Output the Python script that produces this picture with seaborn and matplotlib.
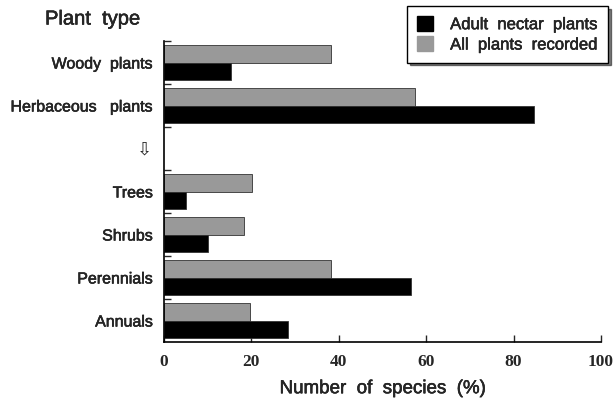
import numpy as np
import seaborn as sns
import matplotlib.pyplot as plt
import pandas as pd
from matplotlib.patches import Patch
import matplotlib.patheffects as pe

# Plant type categories (the third row is an empty separator with an arrow)
plant_types = ["Woody  plants", "Herbaceous   plants", "",
               "Trees", "Shrubs", "Perennials", "Annuals"]
all_plants = [38.2, 57.4, np.nan, 20.1, 18.3, 38.2, 19.7]
nectar_plants = [15.3, 84.7, np.nan, 5.0, 10.1, 56.5, 28.4]
x_ticks = [0, 20, 40, 60, 80, 100]

sns.set_style("ticks")
plt.rcParams['font.family'] = ['Liberation Sans', 'DejaVu Sans']

# slightly heavier strokes to imitate the scanned print
heavy = [pe.withStroke(linewidth=0.35, foreground='black')]

df = pd.DataFrame({
    'type': plant_types * 2,
    'pct': all_plants + nectar_plants,
    'group': ['All plants recorded'] * len(plant_types) + ['Adult nectar plants'] * len(plant_types),
})
df = df.dropna()

fig = plt.figure(figsize=(6.15, 4.02), dpi=100)
ax = fig.add_axes([164 / 615, 1 - 343 / 402, 437 / 615, 301 / 402])

sns.barplot(data=df, y='type', x='pct', hue='group', order=plant_types,
            hue_order=['All plants recorded', 'Adult nectar plants'],
            palette=['#999999', 'black'], orient='h', width=0.8, gap=0,
            edgecolor='#333333', linewidth=0.6, legend=False, ax=ax)

ax.set_xlim(0, 100)
ax.set_ylim(6.5, -0.5)
ax.set_xticks(x_ticks)
ax.set_xticklabels([str(t) for t in x_ticks], family='Liberation Serif',
                   fontweight='bold', fontsize=12.5)
ax.tick_params(axis='x', direction='in', length=5, width=1, pad=8)
ax.tick_params(axis='y', which='major', length=0, pad=8, labelsize=11.5)
ax.set_yticks(np.arange(-0.5, 6, 1), minor=True)
ax.tick_params(axis='y', which='minor', direction='in', length=5, width=1)
for lab in ax.get_yticklabels():
    lab.set_path_effects(heavy)

# arrow in the separator row
ax.text(-0.045, 2, "\u21e9", transform=ax.get_yaxis_transform(), family='DejaVu Sans',
        fontsize=13, ha='center', va='center')

ax.set_ylabel('')
ax.set_xlabel('Number  of  species  (%)', fontsize=13.5, labelpad=8,
              path_effects=heavy)
for s in ['top', 'right']:
    ax.spines[s].set_visible(False)
for s in ['left', 'bottom']:
    ax.spines[s].set_linewidth(1.2)
    ax.spines[s].set_color('black')

fig.text(45 / 615, 1 - 20 / 402, 'Plant  type', fontsize=14.5, ha='left', va='center',
         path_effects=heavy)

handles = [Patch(facecolor='black', edgecolor='black', label='Adult  nectar  plants'),
           Patch(facecolor='#999999', edgecolor='#999999', label='All  plants  recorded')]
leg = fig.legend(handles=handles, loc='upper right', bbox_to_anchor=(608 / 615, 1 - 7 / 402),
                 fontsize=12, frameon=True, fancybox=False, shadow={'color': 'black'},
                 handlelength=1.0, handleheight=1.0, handletextpad=1.0,
                 labelspacing=0.25, borderpad=0.6, borderaxespad=0)
leg.get_frame().set_edgecolor('black')
leg.get_frame().set_linewidth(1.0)
for t in leg.get_texts():
    t.set_path_effects(heavy)

fig.savefig('out.png', dpi=100)
